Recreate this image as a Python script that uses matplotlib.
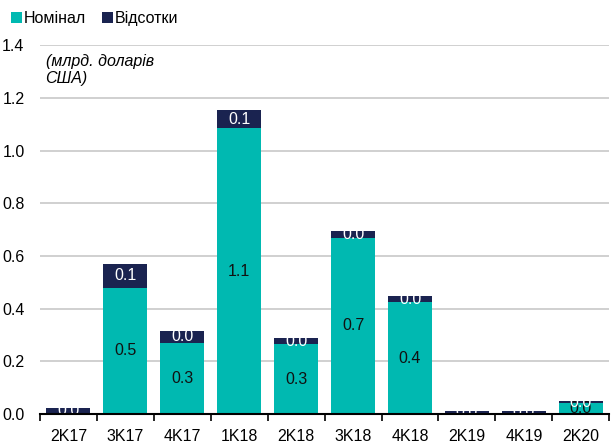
import matplotlib.pyplot as plt
import numpy as np

plt.rcParams['font.family'] = ['Liberation Sans', 'DejaVu Sans']

# дані
quarters = ['2K17', '3K17', '4K17', '1K18', '2K18', '3K18', '4K18', '2K19', '4K19', '2K20']
nominal = [0.0, 0.48, 0.27, 1.085, 0.265, 0.67, 0.425, 0.0, 0.0, 0.042]
interest = [0.023, 0.088, 0.046, 0.068, 0.022, 0.023, 0.023, 0.011, 0.011, 0.007]

teal = '#00B9B1'
navy = '#1A2350'

fig = plt.figure(figsize=(6.13, 4.46), dpi=100)
ax = fig.add_axes([0.065, 0.0717, 0.929, 0.827])

x = np.arange(len(quarters))
b1 = ax.bar(x, nominal, width=0.77, color=teal, label='Номінал', zorder=2)
b2 = ax.bar(x, interest, width=0.77, bottom=nominal, color=navy, label='Відсотки', zorder=2)

# підписи всередині стовпців
for i in range(len(quarters)):
    if nominal[i] > 0:
        ax.text(x[i], nominal[i] / 2, f'{nominal[i]:.1f}', ha='center', va='center',
                fontsize=11.5, color='#111111', zorder=3)
    ax.text(x[i], nominal[i] + interest[i] / 2, f'{interest[i]:.1f}', ha='center', va='center',
            fontsize=11.5, color='white', zorder=3)

ax.set_xlim(-0.5, len(quarters) - 0.5)
ax.set_ylim(0, 1.4)
yt = np.arange(0, 1.41, 0.2)
ax.set_yticks(yt)
ax.set_yticklabels([f'{v:.1f}' for v in yt], fontsize=11.5)
ax.set_xticks(x)
ax.set_xticklabels(quarters, fontsize=11.5)
ax.tick_params(axis='x', which='major', length=0, pad=11)
ax.set_xticks(np.arange(-0.5, len(quarters), 1), minor=True)
ax.tick_params(axis='x', which='minor', length=5, width=1.2, color='black', direction='out')
ax.tick_params(axis='y', length=0, pad=11)

ax.grid(axis='y', color='#c8c8c8', linewidth=1.2, zorder=0)
ax.set_axisbelow(True)
for s in ['top', 'right', 'left']:
    ax.spines[s].set_visible(False)
ax.spines['bottom'].set_linewidth(1.5)
ax.spines['bottom'].set_zorder(4)

ax.text(0.01, 1.365, '(млрд. доларів\nСША)', fontsize=11.5, style='italic', va='top', ha='left',
        transform=ax.get_yaxis_transform(), backgroundcolor='white', zorder=3,
        linespacing=1.15)

fig.legend(handles=[b1, b2], loc='upper left', bbox_to_anchor=(0.0, 1.0), ncol=2,
           frameon=False, fontsize=11.5, handlelength=0.7, handleheight=0.7,
           handletextpad=0.1, columnspacing=1.0, borderaxespad=0.3)

fig.savefig('out.png', dpi=100)
